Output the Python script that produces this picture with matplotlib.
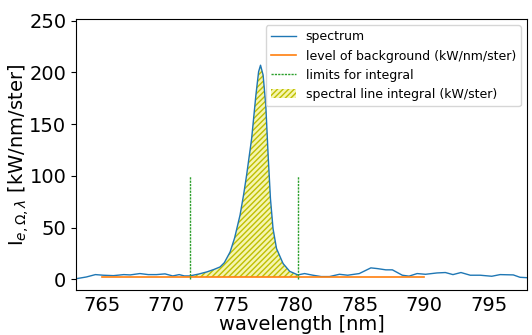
import numpy as np
import matplotlib
matplotlib.use("Agg")
import matplotlib.pyplot as plt

wavelength = [763.0, 763.8, 764.5, 765.1, 765.9, 766.7, 767.2, 767.95, 768.6, 769.24,
              769.9, 770.5, 771.0, 771.4, 771.8, 772.5, 773.15, 773.7, 774.17, 774.5,
              774.95, 775.3, 775.72, 776.0, 776.23, 776.62, 776.95, 777.16, 777.31, 777.51,
              777.72, 777.9, 778.08, 778.28, 778.55, 779.06, 779.57, 780.2, 780.73, 781.37,
              782.02, 782.66, 783.43, 784.07, 784.97, 785.87, 786.38, 787.03, 787.54, 788.31,
              788.83, 789.46, 790.11, 791.0, 791.65, 792.24, 792.86, 793.58, 794.35, 795.25,
              795.9, 796.92, 797.44, 798.0]
spectrum = [0.5, 2.2, 4.5, 3.9, 3.5, 4.5, 4.2, 5.5, 4.5, 4.5,
            5.2, 3.2, 4.5, 3.2, 3.2, 5.0, 7.1, 9.5, 11.9, 16.0,
            26.4, 40.0, 62.0, 82.0, 100.7, 136.0, 178.0, 200.7, 207.0, 197.5,
            168.0, 120.0, 78.0, 49.0, 29.7, 15.2, 7.7, 4.2, 5.5, 3.9,
            2.6, 2.6, 4.8, 3.9, 5.5, 11.0, 10.3, 9.1, 9.1, 3.9,
            3.0, 5.5, 4.8, 6.1, 6.5, 4.5, 6.5, 3.9, 3.9, 2.9,
            4.5, 4.2, 1.9, 1.5]
background_level = 2.3
background_range = [765.0, 790.0]
integral_limits = [771.8, 780.2]
limit_line_top = 100

wl = np.array(wavelength)
sp = np.array(spectrum)

fig = plt.figure(figsize=(5.32, 3.35), dpi=100)
ax = fig.add_axes([0.143, 0.134, 0.848, 0.809])

ax.plot(wl, sp, color='#1f77b4', lw=1.0, label='spectrum')
ax.plot(background_range, [background_level, background_level], color='#ff7f0e', lw=1.2,
        label='level of background (kW/nm/ster)')
ax.vlines(integral_limits, 0, limit_line_top, colors='#2ca02c', linestyles=(0, (1.6, 0.8)),
          lw=1.0, label='limits for integral')
mask = (wl >= integral_limits[0]) & (wl <= integral_limits[1])
ax.fill_between(wl, sp, background_level, where=mask, facecolor='#f5f5b0', edgecolor='y',
                hatch='//////', lw=0, label='spectral line integral (kW/ster)')

ax.set_xlim(763, 798)
ax.set_ylim(-10.5, 251.6)
ax.set_xticks([765, 770, 775, 780, 785, 790, 795])
ax.set_yticks([0, 50, 100, 150, 200, 250])
ax.tick_params(labelsize=14)
ax.tick_params(axis='x', length=0, pad=4)
ax.set_xlabel('wavelength [nm]', fontsize=14)
ax.set_ylabel(r'I$_{e,\Omega,\lambda}$ [kW/nm/ster]', fontsize=14)
ax.xaxis.set_label_coords(0.5, -0.09)
ax.xaxis.label.set_va('top')
ax.yaxis.set_label_coords(-0.1, 0.5)
ax.legend(loc='upper right', fontsize=9)

fig.savefig('out.png', dpi=100)
